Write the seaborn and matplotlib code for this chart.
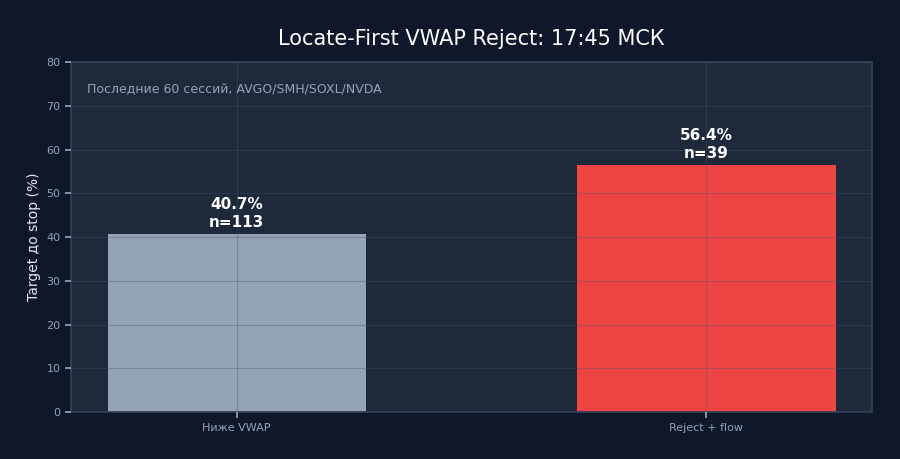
import matplotlib
matplotlib.use("Agg")
import matplotlib.pyplot as plt
import seaborn as sns
import pandas as pd

# Данные
categories = ["Ниже VWAP", "Reject + flow"]
hit_rate = [40.7, 56.4]
counts = [113, 39]
bar_colors = ["#94a3b8", "#ef4444"]

BG = "#0f172a"
PANEL = "#1e293b"
MUTED = "#94a3b8"

sns.set_theme(style="dark")
plt.rcParams["font.family"] = ["DejaVu Sans"]

df = pd.DataFrame({"group": categories, "rate": hit_rate})

fig, ax = plt.subplots(figsize=(9, 4.59), dpi=100)
fig.patch.set_facecolor(BG)
ax.set_facecolor(PANEL)

sns.barplot(data=df, x="group", y="rate", hue="group", palette=bar_colors,
            width=0.55, legend=False, saturation=1, linewidth=0, ax=ax)

ax.set_xlim(-0.3525, 1.3525)
ax.set_ylim(0, 80)
ax.set_axisbelow(False)
ax.grid(True, color="#475569", alpha=0.35, linewidth=0.8)

for i, (v, n) in enumerate(zip(hit_rate, counts)):
    ax.text(i, v + 1.0, f"{v:.1f}%\nn={n}", ha="center", va="bottom",
            color="white", fontsize=11, fontweight="bold", linespacing=1.25)

ax.text(0.02, 0.92, "Последние 60 сессий, AVGO/SMH/SOXL/NVDA",
        transform=ax.transAxes, color=MUTED, fontsize=9, va="center")

ax.set_title("Locate-First VWAP Reject: 17:45 МСК", color="white",
             fontsize=15, pad=12)
ax.set_xlabel("")
ax.set_ylabel("Target до stop (%)", color="#e2e8f0", fontsize=10)
ax.tick_params(colors=MUTED, labelsize=8, length=4, bottom=True, left=True)
for s in ax.spines.values():
    s.set_color("#334155")

fig.subplots_adjust(left=0.079, right=0.969, top=0.865, bottom=0.102)
fig.savefig("out.png", facecolor=BG)
